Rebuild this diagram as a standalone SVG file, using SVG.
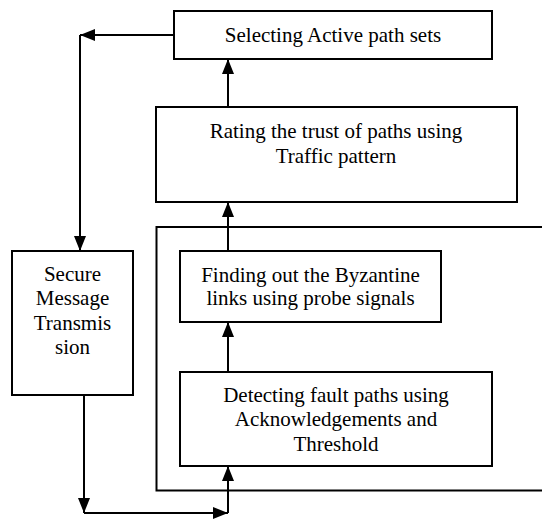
<svg xmlns="http://www.w3.org/2000/svg" width="542" height="521" viewBox="0 0 542 521">
<style>
.box{fill:#fff;stroke:#000;stroke-width:2}
.t{font-family:"Liberation Serif","Times New Roman",serif;font-size:21px;fill:#000;text-anchor:middle}
.c{fill:none;stroke:#000;stroke-width:2}
</style>
<defs>
<marker id="ah" markerUnits="userSpaceOnUse" markerWidth="15" markerHeight="12" refX="15" refY="6" orient="auto">
<path d="M0,0 L15,6 L0,12 z" fill="#000"/>
</marker>
</defs>
<rect width="542" height="521" fill="#fff"/>
<g id="frame">
<path class="c" d="M542,227 H156.5 V490.5 H542"/>
</g>
<g id="selecting">
<rect class="box" x="174" y="11" width="318" height="48"/>
<text class="t" x="333" y="42">Selecting Active path sets</text>
</g>
<g id="rating">
<rect class="box" x="156" y="107" width="361" height="95"/>
<text class="t" x="336" y="138">Rating the trust of paths using</text>
<text class="t" x="336" y="163">Traffic pattern</text>
</g>
<g id="finding">
<rect class="box" x="180" y="251" width="261" height="71"/>
<text class="t" x="310.5" y="282">Finding out the Byzantine</text>
<text class="t" x="310.5" y="305">links using probe signals</text>
</g>
<g id="detecting">
<rect class="box" x="180" y="372" width="312" height="94"/>
<text class="t" x="336" y="402">Detecting fault paths using</text>
<text class="t" x="336" y="426">Acknowledgements and</text>
<text class="t" x="336" y="451">Threshold</text>
</g>
<g id="secure">
<rect class="box" x="12" y="251" width="121" height="144"/>
<text class="t" x="72.5" y="281">Secure</text>
<text class="t" x="72.5" y="305">Message</text>
<text class="t" x="72.5" y="330">Transmis</text>
<text class="t" x="72.5" y="354">sion</text>
</g>
<g id="connectors">
<path class="c" d="M174,35 H80" marker-end="url(#ah)"/>
<path class="c" d="M80,35 V251" marker-end="url(#ah)"/>
<path class="c" d="M228,107 V59" marker-end="url(#ah)"/>
<path class="c" d="M228,251 V202" marker-end="url(#ah)"/>
<path class="c" d="M228,372 V322" marker-end="url(#ah)"/>
<path class="c" d="M84,395 V513" marker-end="url(#ah)"/>
<path class="c" d="M84,513 H228" marker-end="url(#ah)"/>
<path class="c" d="M228,513 V466" marker-end="url(#ah)"/>
</g>
</svg>
